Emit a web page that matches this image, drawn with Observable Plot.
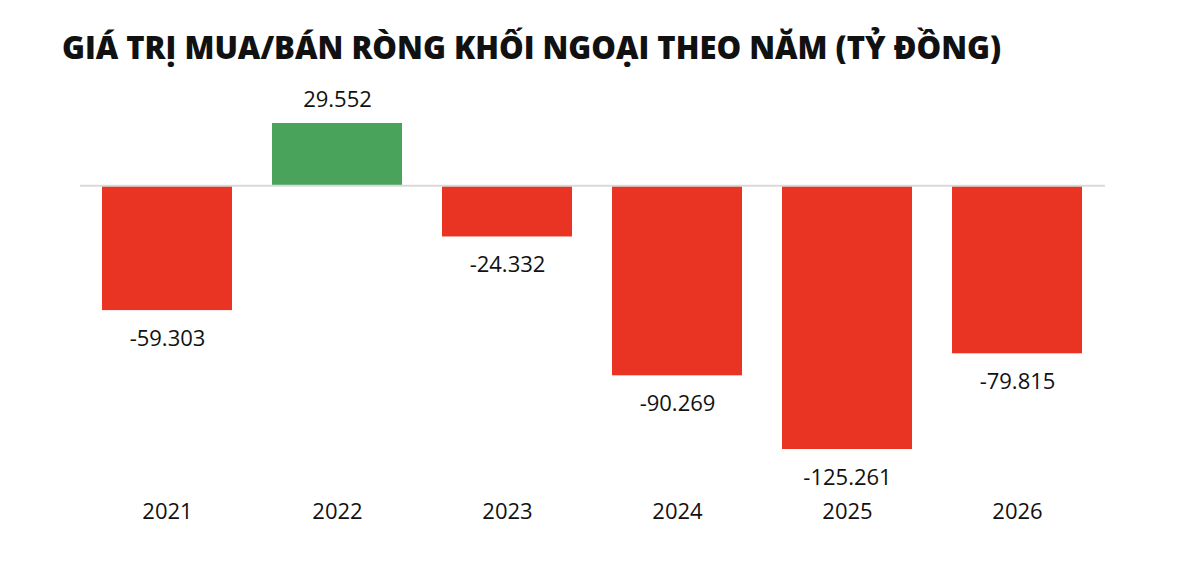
<!DOCTYPE html>
<html>
<head>
<meta charset="utf-8">
<script src="https://cdn.jsdelivr.net/npm/d3@7"></script>
<script src="https://cdn.jsdelivr.net/npm/@observablehq/plot@0.6"></script>
<style>
  html, body { margin: 0; padding: 0; background: #fff; }
  body { width: 1200px; height: 564px; position: relative; overflow: hidden; font-family: "Open Sans", sans-serif; }
  #title { position: absolute; left: 62px; top: 26px; font-size: 31px; font-weight: 800; color: #111; white-space: nowrap; letter-spacing: 0px; }
  #chart { position: absolute; left: 0; top: 84px; }
</style>
</head>
<body>
<div id="title">GIÁ TRỊ MUA/BÁN RÒNG KHỐI NGOẠI THEO NĂM (TỶ ĐỒNG)</div>
<div id="chart"></div>
<script>
// Net foreign buy/sell value per year, in billions of VND
const years = ["2021", "2022", "2023", "2024", "2025", "2026"];
const values = [-59303, 29552, -24332, -90269, -125261, -79815];

const data = years.map((year, i) => ({year, value: values[i]}));

// Vietnamese number style: "." as thousands separator
const vn = d3.formatLocale({decimal: ",", thousands: ".", grouping: [3], currency: ["", ""], minus: "-"});
const fmt = vn.format(",d");

const red = "#e93424";
const green = "#4aa35a";

const chart = Plot.plot({
  width: 1200,
  height: 480,
  marginLeft: 80,
  marginRight: 95,
  marginTop: 39,
  marginBottom: 115,
  style: {fontFamily: "Open Sans, sans-serif", fontSize: "22px", color: "#111"},
  x: {domain: years, paddingInner: 0.233, paddingOuter: 0.117, label: null},
  y: {domain: [-125261, 29552], axis: null},
  marks: [
    Plot.barY(data, {x: "year", y: "value", fill: d => d.value >= 0 ? green : red}),
    Plot.ruleY([0], {stroke: "#d9d9d9", strokeWidth: 2}),
    Plot.text(data.filter(d => d.value >= 0), {x: "year", y: "value", text: d => fmt(d.value), dy: -24, fill: "#111", fontSize: 22}),
    Plot.text(data.filter(d => d.value < 0), {x: "year", y: "value", text: d => fmt(d.value), dy: 28, fill: "#111", fontSize: 22}),
    Plot.axisX({tickSize: 0, tickPadding: 54, fontSize: 22, fill: "#111"})
  ]
});
document.getElementById("chart").appendChild(chart);
</script>
</body>
</html>
